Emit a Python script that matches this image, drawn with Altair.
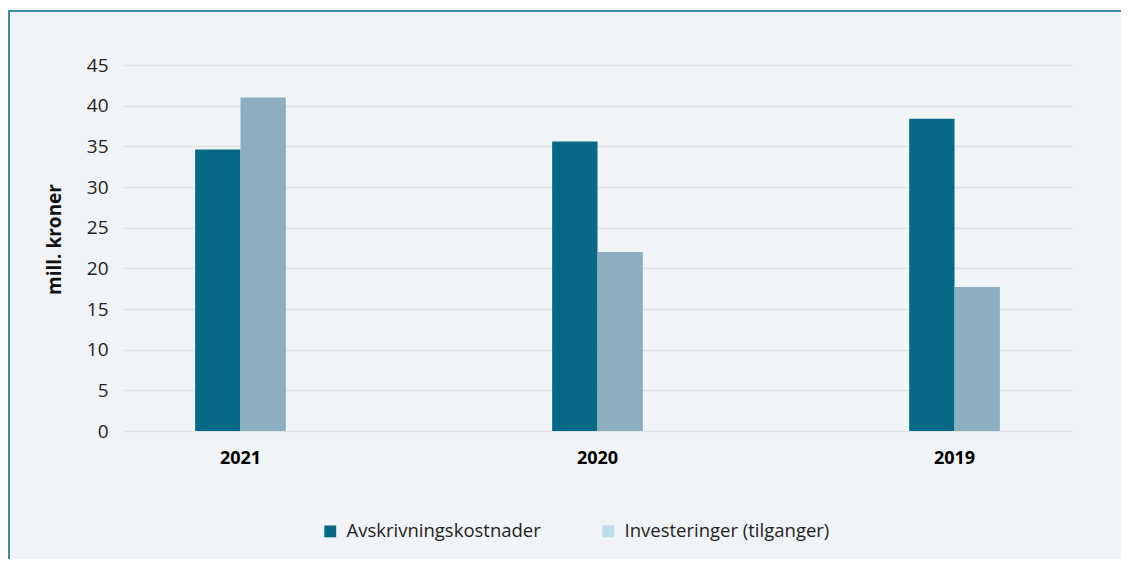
import altair as alt
import pandas as pd

years = ["2021", "2020", "2019"]
series = ["Avskrivningskostnader", "Investeringer (tilganger)"]
avskrivning = [34.6, 35.6, 38.4]
investering = [41.0, 22.0, 17.7]

bar_colors = ["#066a86", "#8daec1"]
legend_colors = ["#066a86", "#bddcee"]

rows = []
for i, y in enumerate(years):
    rows.append({"year": y, "series": series[0], "value": avskrivning[i]})
    rows.append({"year": y, "series": series[1], "value": investering[i]})
df = pd.DataFrame(rows)

FONT = "Open Sans"
PLOT_W = 949
PLOT_H = 366

bars = alt.Chart(df).mark_bar().encode(
    x=alt.X("year:N", sort=years,
            scale=alt.Scale(paddingInner=0.746, paddingOuter=0.202),
            axis=alt.Axis(title=None, labelAngle=0, labelFont=FONT, labelFontSize=18,
                          labelFontWeight="bold", labelColor="#000000",
                          ticks=False, tickSize=0, domain=False, labelPadding=18, grid=False)),
    xOffset=alt.XOffset("series:N", sort=series),
    y=alt.Y("value:Q",
            scale=alt.Scale(domain=[0, 45], nice=False),
            axis=alt.Axis(title="mill. kroner", values=list(range(0, 50, 5)),
                          labelFont=FONT, labelFontSize=19, labelColor="#222222",
                          titleFont=FONT, titleFontSize=19, titleFontWeight="bold",
                          titleColor="#111111", titlePadding=22, titleY=174,
                          ticks=False, tickSize=0, domain=False, labelPadding=15,
                          grid=True, gridColor="#dfe2e5", gridWidth=1.5)),
    color=alt.Color("series:N", sort=series,
                    scale=alt.Scale(domain=series, range=bar_colors), legend=None),
)

legend_layer = alt.Chart(df).transform_filter("false").mark_square(size=140).encode(
    color=alt.Color("series:N", sort=series,
                    scale=alt.Scale(domain=series, range=legend_colors),
                    legend=alt.Legend(title=None, orient="none", direction="horizontal",
                                      legendX=198, legendY=457,
                                      symbolType="square", symbolSize=140,
                                      symbolStrokeWidth=0, symbolOpacity=1,
                                      labelFont=FONT, labelFontSize=18.5, labelLimit=0,
                                      labelColor="#222222", labelOffset=7,
                                      columnPadding=58, padding=0)),
)

frame = pd.DataFrame({"k": [0]})
left_border = alt.Chart(frame).mark_rule(color="#3e8ea3", strokeWidth=2).encode(
    x=alt.value(-114), y=alt.value(-54), y2=alt.value(495)
)
top_border = alt.Chart(frame).mark_rule(color="#3e8ea3", strokeWidth=2).encode(
    x=alt.value(-115), x2=alt.value(1000), y=alt.value(-54)
)

chart = alt.layer(bars, legend_layer, left_border, top_border).resolve_scale(
    color="independent"
).properties(
    width=PLOT_W, height=PLOT_H,
    background="#f0f4f7",
    padding={"left": 115, "top": 57, "right": 49, "bottom": 128},
    autosize=alt.AutoSizeParams(type="none"),
).configure_view(stroke=None)

chart.save("out.html", embed_options={"renderer": "svg", "actions": False})
